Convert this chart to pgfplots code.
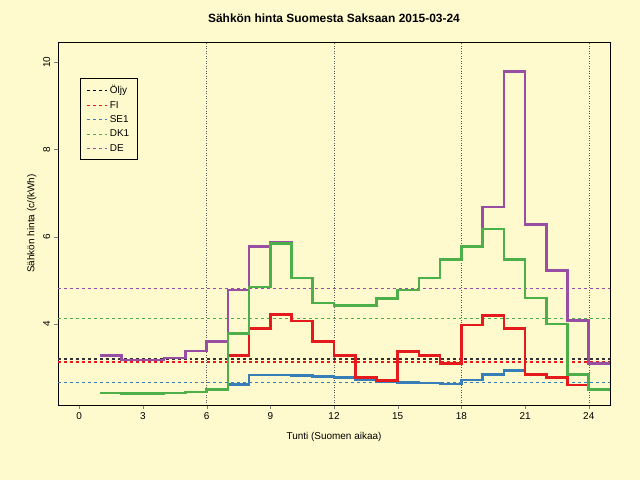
\documentclass[border=0pt]{standalone}
\usepackage{pgfplots}
\pgfplotsset{compat=1.18}
\usepackage{fontspec}
\setmainfont{Liberation Sans}
\definecolor{bg}{HTML}{FFFACD}
\definecolor{cred}{HTML}{E41A1C}
\definecolor{cblue}{HTML}{377EB8}
\definecolor{cgreen}{HTML}{4DAF4A}
\definecolor{cpurp}{HTML}{984EA3}
\begin{document}
\begin{tikzpicture}
\fill[bg] (0,0) rectangle (640bp,480bp);
\begin{axis}[at={(58bp,75bp)},anchor=south west,scale only axis,
 width=552bp,height=363bp,
 xmin=-1,xmax=25,ymin=2.145,ymax=10.46,
 xtick={0,3,...,24},ytick={4,6,8,10},
 tick align=outside,tick pos=left,
 yticklabel style={rotate=90},
 ticklabel style={font=\fontsize{10}{12}\selectfont},
 /pgf/number format/assume math mode=true,
 title={\fontsize{12}{14}\selectfont\bfseries Sähkön hinta Suomesta Saksaan 2015-03-24},
 title style={yshift=10bp},
 xlabel={Tunti (Suomen aikaa)},ylabel={Sähkön hinta (c/(kWh)},
 label style={font=\fontsize{10}{12}\selectfont},
 xlabel style={yshift=-6bp},
 axis background/.style={fill=bg},
 legend style={at={(rel axis cs:0.04,0.9)},anchor=north west,font=\fontsize{10}{12}\selectfont,draw=black,fill=bg,row sep=2pt,inner xsep=6pt,inner ysep=5pt},
 legend cell align=left,
 legend image post style={xscale=1.2},
 every axis plot/.append style={line width=2.6pt},
]
\addlegendimage{black,dashed,line width=1.2pt}\addlegendentry{Öljy\hspace{1.5em}}
\addlegendimage{cred,dashed,line width=1.2pt}\addlegendentry{FI}
\addlegendimage{cblue,dashed,line width=1.2pt}\addlegendentry{SE1}
\addlegendimage{cgreen,dashed,line width=1.2pt}\addlegendentry{DK1}
\addlegendimage{cpurp,dashed,line width=1.2pt}\addlegendentry{DE}
\foreach \g in {6,12,18,24}{\edef\tmp{\noexpand\draw[gray!70!black,dotted,line width=0.5pt] (axis cs:\g,2.145) -- (axis cs:\g,10.46);}\tmp}
\addplot[black!80,dashed,line width=1.2pt,forget plot] coordinates {(-1,3.2)(25,3.2)};
\addplot[cred,dashed,line width=1.2pt,forget plot] coordinates {(-1,3.13)(25,3.13)};
\addplot[cblue,dashed,line width=1.2pt,forget plot] coordinates {(-1,2.66)(25,2.66)};
\addplot[cgreen,dashed,line width=1.2pt,forget plot] coordinates {(-1,4.12)(25,4.12)};
\addplot[cpurp,dashed,line width=1.2pt,forget plot] coordinates {(-1,4.82)(25,4.82)};
\addplot[cpurp,const plot,forget plot] coordinates {(1,3.28)(2,3.18)(3,3.18)(4,3.22)(5,3.38)(6,3.6)(7,4.78)(8,5.78)(9,5.88)(10,5.05)(11,4.48)(12,4.42)(13,4.43)(14,4.58)(15,4.78)(16,5.05)(17,5.48)(18,5.78)(19,6.68)(20,9.78)(21,6.28)(22,5.22)(23,4.08)(24,3.1)(25,3.1)};
\addplot[cblue,const plot,forget plot] coordinates {(1,2.42)(2,2.41)(3,2.41)(4,2.42)(5,2.44)(6,2.5)(7,2.62)(8,2.83)(9,2.83)(10,2.82)(11,2.8)(12,2.77)(13,2.73)(14,2.68)(15,2.66)(16,2.65)(17,2.63)(18,2.72)(19,2.85)(20,2.93)(21,2.85)(22,2.78)(23,2.6)(24,2.5)(25,2.5)};
\addplot[cred,const plot,forget plot] coordinates {(1,2.42)(2,2.41)(3,2.41)(4,2.42)(5,2.44)(6,2.5)(7,3.28)(8,3.9)(9,4.22)(10,4.07)(11,3.6)(12,3.28)(13,2.78)(14,2.7)(15,3.37)(16,3.28)(17,3.1)(18,3.98)(19,4.2)(20,3.9)(21,2.85)(22,2.78)(23,2.6)(24,2.5)(25,2.5)};
\addplot[cgreen,const plot,forget plot] coordinates {(1,2.42)(2,2.41)(3,2.41)(4,2.42)(5,2.44)(6,2.5)(7,3.78)(8,4.85)(9,5.85)(10,5.05)(11,4.48)(12,4.42)(13,4.43)(14,4.58)(15,4.78)(16,5.05)(17,5.48)(18,5.78)(19,6.18)(20,5.48)(21,4.6)(22,4.0)(23,2.85)(24,2.5)(25,2.5)};
\end{axis}
\end{tikzpicture}
\end{document}
